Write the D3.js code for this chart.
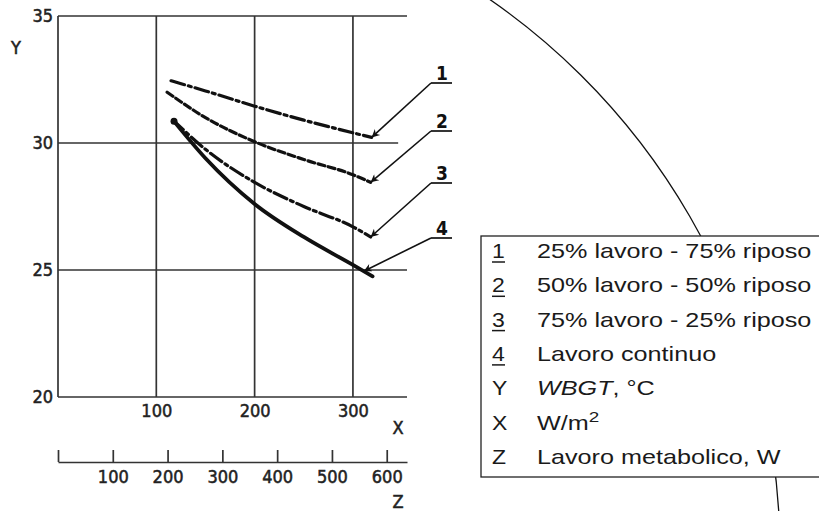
<!DOCTYPE html>
<html>
<head>
<meta charset="utf-8">
<script src="https://cdn.jsdelivr.net/npm/d3@7"></script>
<style>
  body { margin: 0; background: #fff; }
  svg { display: block; }
</style>
</head>
<body>
<div id="chart"></div>
<script>
// WBGT limit curves, X = W/m2, Y = WBGT in degC
var seriesLabels = ["1", "2", "3", "4"];
var xLight = [115, 150, 200, 250, 300, 319];
var yLight = [32.45, 32.05, 31.45, 30.9, 30.4, 30.22];
var xHalf = [111, 150, 200, 250, 300, 318];
var yHalf = [32.0, 31.0, 30.05, 29.35, 28.75, 28.45];
var xHeavy = [117, 150, 200, 250, 300, 318];
var yHeavy = [30.9, 29.75, 28.45, 27.5, 26.7, 26.3];
var xCont = [117, 150, 200, 250, 300, 320];
var yCont = [30.9, 29.4, 27.6, 26.3, 25.2, 24.75];
// where each numbered arrow points (X value on its curve)
var arrowX = [319, 318, 318, 311];

var yTicks = [20, 25, 30, 35];
var xTicks = [100, 200, 300];
var zTicks = [0, 100, 200, 300, 400, 500, 600];

var legendKeys = ["1", "2", "3", "4", "Y", "X", "Z"];
var legendTexts = ["25% lavoro - 75% riposo", "50% lavoro - 50% riposo",
    "75% lavoro - 25% riposo", "Lavoro continuo", "WBGT, °C", "W/m2", "Lavoro metabolico, W"];

var width = 819
var height = 511
var tickFont = "'DejaVu Sans Condensed', 'DejaVu Sans', sans-serif"
var ink = "#222"

var svg = d3.select("#chart")
    .append("svg")
    .attr("width", width)
    .attr("height", height)

// scales
var x = d3.scaleLinear().domain([0, 355]).range([58, 407])
var y = d3.scaleLinear().domain([20, 35]).range([397, 16])
var z = d3.scaleLinear().domain([0, 637]).range([58, 407])

// big decorative arc behind the legend
var arcPath = d3.path()
arcPath.arc(107, 553, 673, -Math.PI / 3, 0)
svg.append("path")
    .attr("d", arcPath.toString())
    .attr("fill", "none")
    .attr("stroke", "#111")
    .attr("stroke-width", 1.3)

// grid
svg.selectAll("hgrid")
    .data(yTicks)
    .enter()
    .append("line")
    .attr("x1", x(0))
    .attr("x2", function (d) { return d == 30 ? x(346) : x(355); })
    .attr("y1", function (d) { return y(d); })
    .attr("y2", function (d) { return y(d); })
    .attr("stroke", "#333")
    .attr("stroke-width", 1.7)

svg.selectAll("vgrid")
    .data([0].concat(xTicks))
    .enter()
    .append("line")
    .attr("x1", function (d) { return x(d); })
    .attr("x2", function (d) { return x(d); })
    .attr("y1", y(20))
    .attr("y2", y(35))
    .attr("stroke", "#333")
    .attr("stroke-width", 1.7)

// axis labels
var yAxis = svg.append("g")
    .attr("transform", "translate(" + x(0) + ",0)")
    .call(d3.axisLeft(y).tickValues(yTicks).tickSize(0).tickPadding(5))
var xAxis = svg.append("g")
    .attr("transform", "translate(0," + y(20) + ")")
    .call(d3.axisBottom(x).tickValues(xTicks).tickSize(0).tickPadding(7))
var zAxis = svg.append("g")
    .attr("transform", "translate(0,462)")
    .call(d3.axisBottom(z).tickValues(zTicks).tickSize(-12).tickSizeOuter(0).tickPadding(8)
        .tickFormat(function (d) { return d == 0 ? "" : d; }))

yAxis.select(".domain").remove()
xAxis.select(".domain").remove()
;[yAxis, xAxis, zAxis].forEach(function (g) {
    g.selectAll("text")
        .attr("fill", ink)
        .attr("stroke", ink)
        .attr("stroke-width", 0.5)
        .style("font-family", tickFont)
        .style("font-size", "18px")
    g.selectAll("line, path")
        .attr("stroke", "#333")
        .attr("stroke-width", 1.7)
})

function axisName(t, cx, cy) {
    svg.append("text").text(t).attr("x", cx).attr("y", cy)
        .attr("text-anchor", "middle").attr("fill", ink)
        .attr("stroke", ink).attr("stroke-width", 0.5)
        .style("font-family", tickFont)
        .style("font-size", "18px")
}
axisName("Y", 16, 54)
axisName("X", 398, 434)
axisName("Z", 398, 508)

// curves
var series = [
    { xs: xLight, ys: yLight, dash: "14,4,3,4", w: 3.2 },
    { xs: xHalf, ys: yHalf, dash: "7,3.5", w: 3.2 },
    { xs: xHeavy, ys: yHeavy, dash: "14,4,3,4", w: 3.2 },
    { xs: xCont, ys: yCont, dash: null, w: 3.8 }
]

var line = d3.line()
    .x(function (d) { return x(d[0]); })
    .y(function (d) { return y(d[1]); })
    .curve(d3.curveMonotoneX)

svg.selectAll("curves")
    .data(series)
    .enter()
    .append("path")
    .attr("d", function (s) { return line(d3.zip(s.xs, s.ys)); })
    .attr("fill", "none")
    .attr("stroke", "#111")
    .attr("stroke-width", function (s) { return s.w; })
    .attr("stroke-dasharray", function (s) { return s.dash; })
    .attr("stroke-linecap", "round")

// fat start of the continuous curve
svg.append("circle")
    .attr("cx", x(xCont[0]) + 1)
    .attr("cy", y(yCont[0]) + 1)
    .attr("r", 3.5)
    .attr("fill", "#111")

// numbered arrows
svg.append("defs").append("marker")
    .attr("id", "head")
    .attr("viewBox", "0 0 10 10")
    .attr("refX", 10)
    .attr("refY", 5)
    .attr("markerWidth", 14)
    .attr("markerHeight", 8)
    .attr("markerUnits", "userSpaceOnUse")
    .attr("orient", "auto")
    .append("path")
    .attr("d", "M0,0L10,5L0,10L3,5Z")
    .attr("fill", "#111")

var labelBase = [80, 128, 180, 235]
series.forEach(function (s, i) {
    var onCurve = d3.scaleLinear().domain(s.xs).range(s.ys)
    var tipX = x(arrowX[i])
    var tipY = y(onCurve(arrowX[i]))
    var ly = labelBase[i] + 3
    svg.append("line")
        .attr("x1", 431).attr("y1", ly)
        .attr("x2", tipX).attr("y2", tipY)
        .attr("stroke", "#111")
        .attr("stroke-width", 1.6)
        .attr("marker-end", "url(#head)")
    svg.append("line")
        .attr("x1", 431).attr("x2", 452)
        .attr("y1", ly).attr("y2", ly)
        .attr("stroke", "#111")
        .attr("stroke-width", 1.7)
    svg.append("text")
        .text(seriesLabels[i])
        .attr("x", 442)
        .attr("y", labelBase[i])
        .attr("text-anchor", "middle")
        .attr("fill", "#111")
        .style("font-family", tickFont)
        .style("font-weight", "bold")
        .style("font-size", "19px")
})

// legend box
svg.append("rect")
    .attr("x", 481)
    .attr("y", 236)
    .attr("width", 360)
    .attr("height", 241)
    .attr("fill", "#fff")
    .attr("stroke", "#222")
    .attr("stroke-width", 1.3)

var legendFont = "'Liberation Sans', Arial, sans-serif"
legendKeys.forEach(function (k, i) {
    var base = 258 + i * 34.3
    var row = svg.append("g")
        .attr("transform", "translate(0," + base + ")")
    row.append("text")
        .text(k)
        .attr("transform", "translate(492,0) scale(1.15,1)")
        .attr("fill", "#1a1a1a")
        .style("font-family", legendFont)
        .style("font-size", "20px")
    if (i < 4) {
        row.append("line")
            .attr("x1", 492).attr("x2", 505)
            .attr("y1", 4).attr("y2", 4)
            .attr("stroke", "#1a1a1a")
            .attr("stroke-width", 1.5)
    }
    var t = row.append("text")
        .attr("transform", "translate(537,0) scale(1.26,1)")
        .attr("fill", "#1a1a1a")
        .style("font-family", legendFont)
        .style("font-size", "20px")
    if (k == "Y") {
        t.append("tspan").text("WBGT").style("font-style", "italic")
        t.append("tspan").text(", °C")
    } else if (k == "X") {
        t.append("tspan").text("W/m")
        t.append("tspan").text("2").attr("baseline-shift", "super").style("font-size", "15px")
    } else {
        t.text(legendTexts[i])
    }
})
</script>
</body>
</html>
